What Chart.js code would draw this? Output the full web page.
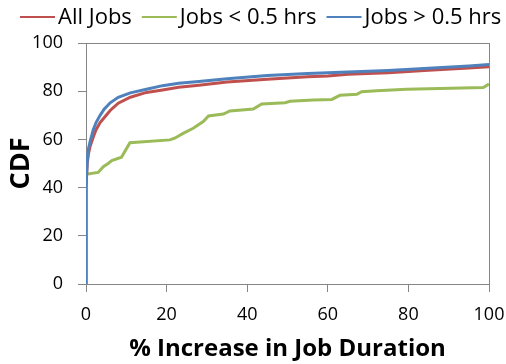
<!DOCTYPE html>
<html>
<head>
<meta charset="utf-8">
<script src="https://cdn.jsdelivr.net/npm/chart.js@4.4.0/dist/chart.umd.min.js"></script>
<style>
  html, body { margin: 0; padding: 0; background: #fff; }
  #wrap { width: 506px; height: 364px; }
</style>
</head>
<body>
<div id="wrap"><canvas id="cdfChart" width="506" height="364"></canvas></div>
<script>
// Series labels
const seriesNames = ['All Jobs', 'Jobs < 0.5 hrs', 'Jobs > 0.5 hrs'];

// All Jobs (red)
const allX = [0, 0, 0.3, 0.6, 1, 1.8, 2.5, 3.5, 4.5, 6, 8, 11, 15, 19, 23, 28, 35, 45, 55, 60, 65, 75, 85, 95, 100];
const allY = [0, 40, 50, 54, 57, 61, 64, 67, 69, 72, 75, 77.5, 79.5, 80.5, 81.6, 82.5, 83.8, 85, 86, 86.3, 87, 87.7, 88.7, 89.6, 90.1];

// Jobs < 0.5 hrs (green)
const shortX = [0, 0, 3, 4.3, 5.5, 6.4, 8.8, 10.9, 20.8, 22, 24.1, 26.6, 29.1, 30.4, 34.1, 35.7, 41.5, 43.6, 49.4, 50.6, 56.4, 61, 63, 67.2, 68.4, 72.1, 79.6, 98.6, 100];
const shortY = [0, 45.5, 46.3, 48.7, 50, 51.2, 52.6, 58.6, 59.8, 60.5, 62.5, 64.6, 67.4, 69.7, 70.5, 71.8, 72.6, 74.7, 75.2, 75.8, 76.3, 76.6, 78.3, 78.7, 79.8, 80.2, 80.8, 81.5, 83];

// Jobs > 0.5 hrs (blue)
const longX = [0, 0, 0.3, 0.6, 1, 1.8, 2.5, 3.5, 4.5, 6, 8, 11, 15, 19, 23, 28, 35, 45, 55, 60, 65, 75, 85, 95, 100];
const longY = [0, 40, 51, 56, 59, 64, 67, 70, 72.5, 75.2, 77.5, 79.3, 80.8, 82.3, 83.3, 84, 85.2, 86.5, 87.3, 87.7, 88, 88.6, 89.5, 90.5, 91.1];

// Axis ticks
const xTicks = [0, 20, 40, 60, 80, 100];
const yTicks = [0, 20, 40, 60, 80, 100];

const toPoints = (xs, ys) => xs.map((x, i) => ({ x: x, y: ys[i] }));

const axisGray = '#868686';
const fontFamily = '"Open Sans", "Liberation Sans", sans-serif';

// grey box round the plot area
const frame = {
    id: 'frame',
    beforeDatasetsDraw(chart) {
        const a = chart.chartArea;
        const c = chart.ctx;
        c.save();
        c.strokeStyle = axisGray;
        c.lineWidth = 1;
        c.strokeRect(a.left + 0.5, a.top + 0.5, a.right - a.left, a.bottom - a.top);
        c.restore();
    }
};

// legend in one row along the top, short line then label
const topLegend = {
    id: 'topLegend',
    afterDraw(chart) {
        const c = chart.ctx;
        c.save();
        c.font = '22px ' + fontFamily;
        c.textBaseline = 'middle';
        c.fillStyle = '#000';
        let x = 20;
        const y = 17;
        chart.data.datasets.forEach(ds => {
            c.strokeStyle = ds.borderColor;
            c.lineWidth = 2;
            c.beginPath();
            c.moveTo(x, y);
            c.lineTo(x + 35, y);
            c.stroke();
            x += 38;
            c.fillText(ds.label, x, y + 1);
            x += c.measureText(ds.label).width + 10;
        });
        c.restore();
    }
};

const lineStyle = (color) => ({
    borderColor: color,
    backgroundColor: color,
    borderWidth: 3,
    pointRadius: 0,
    showLine: true,
    tension: 0,
    fill: false
});

new Chart(document.getElementById('cdfChart'), {
    type: 'scatter',
    data: {
        datasets: [
            { label: seriesNames[0], data: toPoints(allX, allY), order: 2, ...lineStyle('#C0504D') },
            { label: seriesNames[1], data: toPoints(shortX, shortY), order: 3, ...lineStyle('#9BBB59') },
            { label: seriesNames[2], data: toPoints(longX, longY), order: 1, ...lineStyle('#4F81BD') }
        ]
    },
    options: {
        responsive: false,
        animation: false,
        layout: { padding: { top: 43, right: 17, bottom: 0, left: 0 } },
        plugins: {
            tooltip: { enabled: false },
            legend: { display: false }
        },
        scales: {
            x: {
                type: 'linear',
                min: 0,
                max: 100,
                afterBuildTicks: (axis) => { axis.ticks = xTicks.map(v => ({ value: v })); },
                afterFit: (axis) => {
                    axis.height = 80;
                    // let the "100" label hang past the plot edge
                    axis.paddingLeft = 0;
                    axis.paddingRight = 0;
                },
                border: { color: axisGray, width: 1 },
                grid: { drawOnChartArea: false, color: axisGray, tickLength: 8 },
                ticks: { color: '#000', font: { family: fontFamily, size: 18 }, padding: 12 },
                title: {
                    display: true,
                    text: '% Increase in Job Duration',
                    color: '#000',
                    font: { family: fontFamily, size: 24, weight: 'bold' },
                    padding: { top: 0, bottom: 0 }
                }
            },
            y: {
                type: 'linear',
                min: 0,
                max: 100,
                afterBuildTicks: (axis) => { axis.ticks = yTicks.map(v => ({ value: v })); },
                afterFit: (axis) => { axis.width = 86; },
                border: { color: axisGray, width: 1 },
                grid: { drawOnChartArea: false, color: axisGray, tickLength: 8 },
                ticks: { color: '#000', font: { family: fontFamily, size: 18 }, padding: 15 },
                title: {
                    display: true,
                    text: 'CDF',
                    color: '#000',
                    font: { family: fontFamily, size: 27, weight: 'bold' },
                    padding: { top: 5, bottom: 0 }
                }
            }
        }
    },
    plugins: [frame, topLegend]
});
</script>
</body>
</html>
